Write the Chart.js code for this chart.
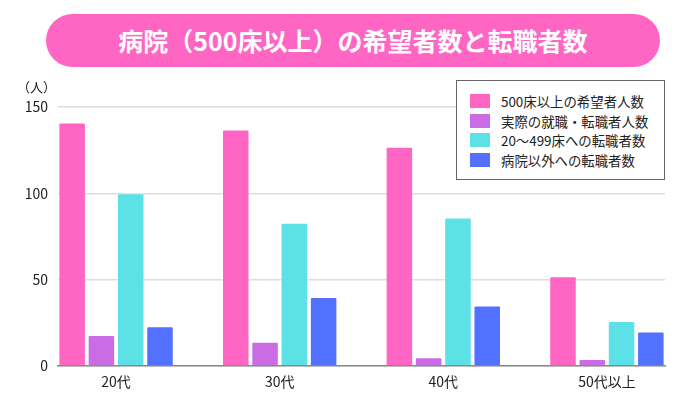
<!DOCTYPE html>
<html lang="ja">
<head>
<meta charset="utf-8">
<script src="https://cdn.jsdelivr.net/npm/chart.js@4"></script>
<style>
  html, body { margin: 0; padding: 0; background: #fff; }
  body { width: 700px; height: 400px; position: relative; overflow: hidden; font-family: "Noto Sans CJK JP", sans-serif; }
  #chartWrap { position: absolute; left: 0; top: 0; width: 700px; height: 400px; }
  .title {
    position: absolute; left: 46px; top: 14px; width: 614px; height: 53px;
    border-radius: 27px; background: #FF66C4; color: #fff;
    font-weight: bold; font-size: 25px; line-height: 53px; text-align: center;
  }
  .unit { position: absolute; left: 17px; top: 77px; font-size: 13px; color: #222; }
  .legend {
    position: absolute; left: 456px; top: 80px; width: 207px; height: 98px;
    border: 1px solid #666; background: #fff; box-sizing: content-box;
  }
  .legend-row { position: absolute; left: 13px; height: 20px; display: flex; align-items: center; font-size: 13.4px; color: #222; white-space: nowrap; }
  .legend-row span.sw { width: 20px; height: 14px; margin-right: 11px; display: inline-block; }
</style>
</head>
<body>
<div id="chartWrap"><canvas id="barChart" width="700" height="400"></canvas></div>
<div class="title">病院（500床以上）の希望者数と転職者数</div>
<div class="unit">（人）</div>
<div class="legend" id="legend"></div>
<script>
// categories and series
const categories = ["20代", "30代", "40代", "50代以上"];
const seriesNames = [
  "500床以上の希望者人数",
  "実際の就職・転職者人数",
  "20〜499床への転職者数",
  "病院以外への転職者数",
];
const wishCounts = [141, 137, 127, 52];
const hiredCounts = [18, 14, 5, 4];
const smallHospitalCounts = [100, 83, 86, 26];
const nonHospitalCounts = [23, 40, 35, 20];
const yTicks = [0, 50, 100, 150];

const seriesColors = ["#FF66C4", "#CB6CE6", "#5CE1E6", "#5271FF"];
const seriesValues = [wishCounts, hiredCounts, smallHospitalCounts, nonHospitalCounts];

function toPoints(values) {
  return values.map((v, i) => ({ x: i, y: v }));
}

function buildLegend() {
  const box = document.getElementById("legend");
  seriesNames.forEach((name, i) => {
    const row = document.createElement("div");
    row.className = "legend-row";
    row.style.top = (10 + i * 19.7) + "px";
    row.innerHTML = `<span class="sw" style="background:${seriesColors[i]}"></span>${name}`;
    box.appendChild(row);
  });
}

function renderChart() {
  const canvas = document.getElementById("barChart");
  const tickFont = { family: "'Noto Sans CJK JP', sans-serif", size: 14 };

  new Chart(canvas, {
    type: "bar",
    data: {
      datasets: seriesNames.map((name, i) => ({
        label: name,
        data: toPoints(seriesValues[i]),
        backgroundColor: seriesColors[i],
        borderColor: "rgba(255,255,255,0.35)",
        borderWidth: 1,
        borderRadius: 2,
        borderSkipped: "start",
        categoryPercentage: 0.716,
        barPercentage: 0.94,
      })),
    },
    options: {
      responsive: false,
      animation: false,
      layout: { padding: { left: 0, right: 35, top: 107, bottom: 0 } },
      scales: {
        x: {
          type: "linear",
          bounds: "data",
          offset: false,
          min: -0.355,
          max: 3.355,
          grid: { display: false, drawTicks: false, offset: false },
          border: { display: true, color: "#888", width: 1.5 },
          afterBuildTicks: (scale) => {
            scale.ticks = categories.map((_, i) => ({ value: i }));
          },
          afterFit: (scale) => { scale.height = 34; },
          ticks: {
            includeBounds: false,
            autoSkip: false,
            maxRotation: 0,
            padding: 7,
            color: "#222",
            font: tickFont,
            callback: (value) => categories[value] ?? "",
          },
        },
        y: {
          min: 0,
          max: 150,
          afterBuildTicks: (scale) => {
            scale.ticks = yTicks.map((v) => ({ value: v }));
          },
          afterFit: (scale) => { scale.width = 58; },
          grid: { color: "#dddddd", lineWidth: 1.5, drawTicks: false },
          border: { display: false },
          ticks: { padding: 10, color: "#222", font: tickFont },
        },
      },
      plugins: {
        legend: { display: false },
        tooltip: { enabled: false },
      },
    },
  });
}

buildLegend();
renderChart();
</script>
</body>
</html>
